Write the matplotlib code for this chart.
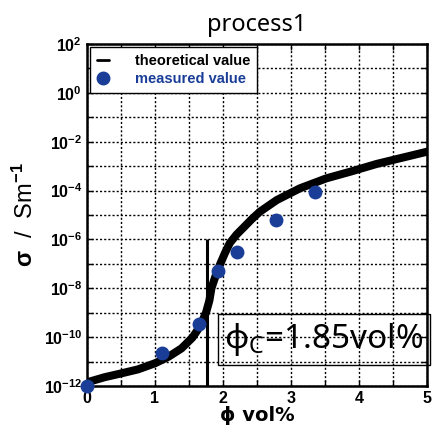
import matplotlib
matplotlib.use("Agg")
import matplotlib.pyplot as plt
import matplotlib.ticker as ticker
import numpy as np

# theoretical curve (phi, log10 sigma)
theory_phi = [0.0, 0.26, 0.51, 0.75, 1.0, 1.2, 1.39, 1.55, 1.66, 1.75, 1.80,
              1.83, 1.89, 1.96, 2.03, 2.10, 2.20, 2.30, 2.42, 2.54, 2.79,
              3.13, 3.52, 3.87, 4.26, 4.6, 5.0]
theory_log = [-11.85, -11.64, -11.48, -11.32, -11.07, -10.8, -10.46, -10.02, -9.57, -9.0, -8.5,
              -8.0, -7.5, -7.0, -6.55, -6.15, -5.8, -5.52, -5.18, -4.87, -4.39,
              -3.91, -3.5, -3.23, -2.91, -2.68, -2.41]

# measured points
meas_phi = [0.0, 1.10, 1.65, 1.93, 2.21, 2.78, 3.35]
meas_sigma = [1e-12, 2.2e-11, 3.4e-10, 5.3e-8, 3.1e-7, 6.0e-6, 9.0e-5]

phi_c_line = 1.77
vline_range = [1e-12, 1e-6]

plt.rcParams['mathtext.fontset'] = 'custom'
plt.rcParams['mathtext.rm'] = 'Liberation Sans:bold'
plt.rcParams['mathtext.bf'] = 'Liberation Sans:bold'
plt.rcParams['mathtext.it'] = 'Liberation Sans:bold'
plt.rcParams['font.family'] = ['Liberation Sans', 'DejaVu Sans']

fig = plt.figure(figsize=(4.38, 4.32), dpi=100)
ax = fig.add_axes([0.1986, 0.1065, 0.7763, 0.7917])

theory_sigma = [10 ** v for v in theory_log]
ax.plot(theory_phi, theory_sigma, color='black', lw=5.8, solid_capstyle='round',
        solid_joinstyle='round', label='theoretical value', zorder=3)
ax.plot(meas_phi, meas_sigma, 'o', color='#1a3e98', ms=9, label='measured value',
        zorder=4, clip_on=False)
ax.vlines(phi_c_line, vline_range[0], vline_range[1], color='black', lw=2.2, zorder=3)

ax.set_yscale('log')
ax.set_xlim(0, 5)
ax.set_ylim(1e-12, 1e2)
ax.xaxis.set_major_locator(ticker.MultipleLocator(1))
ax.xaxis.set_minor_locator(ticker.MultipleLocator(0.5))
ax.yaxis.set_major_locator(ticker.LogLocator(base=10, numticks=20))
ax.yaxis.set_minor_locator(ticker.NullLocator())


def ylab(v, pos):
    e = int(round(np.log10(v)))
    if e % 2:
        return ''
    return r'$10^{%d}$' % e


ax.yaxis.set_major_formatter(ticker.FuncFormatter(ylab))
ax.xaxis.set_major_formatter(ticker.FuncFormatter(lambda v, p: '%d' % v))

ax.grid(True, which='both', color='black', ls=(0, (1.5, 1.5)), lw=1.0)
ax.tick_params(which='both', direction='in', top=True, right=True, length=4,
               width=1, labelsize=11.5)
for lbl in ax.get_xticklabels() + ax.get_yticklabels():
    lbl.set_fontweight('bold')
for s in ax.spines.values():
    s.set_linewidth(1.8)

ax.set_xlabel('ϕ vol%', fontsize=14, fontweight='bold', labelpad=0,
              family=['DejaVu Sans'])
ax.set_ylabel(r'$\sigma$  /  Sm$^{-1}$', fontsize=17, labelpad=4)
ax.set_title('process1', fontsize=17, family='Noto Sans', fontweight='light', pad=9)

leg = ax.legend(loc='upper left', bbox_to_anchor=(0.01, 0.99),
                handlelength=0.8, frameon=True, fancybox=False, framealpha=1,
                edgecolor='black', borderpad=0.45, labelspacing=0.3,
                handletextpad=1.8, borderaxespad=0.0, markerscale=1.0,
                prop={'weight': 'bold', 'size': 10.5})
leg.get_frame().set_linewidth(1.0)
leg.get_lines()[0].set_linewidth(2)
leg.get_texts()[1].set_color('#1a3e98')

ax.text(2.02, 10 ** -10.1, 'ϕ$_\\mathregular{C}$=1.85vol%', transform=ax.transData,
        fontsize=24, family='Noto Sans', va='center', ha='left', clip_on=False,
        zorder=5, bbox=dict(boxstyle='square,pad=0.2', fc='none', ec='black', lw=1))

fig.savefig('out.png', dpi=100)
